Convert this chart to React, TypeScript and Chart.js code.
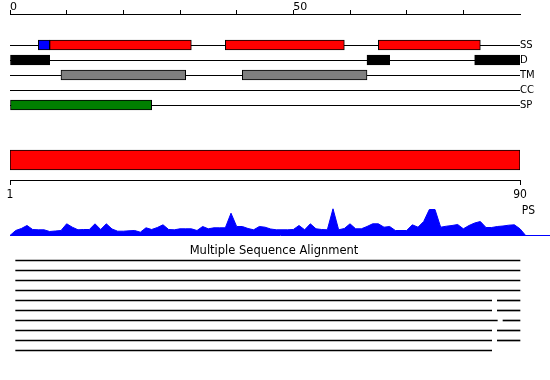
import React, { useEffect, useRef } from 'react';
import { Chart, registerables } from 'chart.js';

Chart.register(...registerables);
Chart.defaults.font.family = "'DejaVu Sans', sans-serif";
Chart.defaults.color = '#000';

// ---------- data ----------
const SEQ_LEN = 90;
const TOP_TICKS = [0, 10, 20, 30, 40, 50, 60, 70, 80];
const TOP_TICK_LABELS = [0, 50];

const TRACKS = ['SS', 'D', 'TM', 'CC', 'SP'];
const SS_SEGMENTS = [[5, 7], [7, 32], [38, 59], [65, 83]];
const SS_COLORS = ['#0000ff', '#ff0000', '#ff0000', '#ff0000'];
const D_SEGMENTS = [[0, 7], [63, 67], [82, 90]];
const TM_SEGMENTS = [[9, 31], [41, 63]];
const CC_SEGMENTS: number[][] = [];
const SP_SEGMENTS = [[0, 25]];
const D_COLOR = '#000000';
const TM_COLOR = '#808080';
const SP_COLOR = '#008000';

const PS_RANGE = [1, 90];
const PS_TICKS = [1, 90];
const PS_COLOR = '#ff0000';

const PROFILE = [
  0, 5, 7, 10, 6, 5.7, 5.7, 4, 4.5, 5,
  11.7, 8.3, 5.7, 6, 6, 11.7, 6, 11.7, 6.5, 4.3,
  4.3, 4.7, 5, 3.3, 7.7, 6, 8, 10.7, 6, 5.7,
  6.7, 6.7, 6.7, 5, 9, 6.7, 7.7, 7.7, 7.7, 22.3,
  9, 9, 7, 5.7, 9, 8.3, 6.5, 5.7, 5.7, 5.7,
  6, 10, 5.7, 11.7, 6.7, 6, 5.7, 26.7, 5.7, 7,
  11.7, 6.7, 6.7, 9, 11.7, 11.7, 8.3, 9, 5, 5,
  5, 10.7, 8.3, 14, 26, 26, 8.3, 9.3, 10, 11,
  6.7, 10, 12.5, 14, 8, 8, 9, 9.5, 10.3, 10.7,
  6.7, 0,
];
const PROFILE_LABEL = 'PS';

const MSA_TITLE = 'Multiple Sequence Alignment';
const MSA_ROWS = [
  [[1, 90]],
  [[1, 90]],
  [[1, 90]],
  [[1, 90]],
  [[1, 85], [86, 90]],
  [[1, 85], [86, 90]],
  [[1, 86], [87, 90]],
  [[1, 85], [86, 90]],
  [[1, 85], [86, 90]],
  [[1, 85]],
];

const NARROW = "'DejaVu Sans Condensed', 'DejaVu Sans', sans-serif";

function noPad(s: any) {
  s.paddingTop = 0;
  s.paddingBottom = 0;
  s.paddingLeft = 0;
  s.paddingRight = 0;
}

// ---------- configs ----------
function tracksConfig(): any {
  const segs = [SS_SEGMENTS, D_SEGMENTS, TM_SEGMENTS, CC_SEGMENTS, SP_SEGMENTS];
  const cols = [SS_COLORS, D_SEGMENTS.map(() => D_COLOR), TM_SEGMENTS.map(() => TM_COLOR), [], SP_SEGMENTS.map(() => SP_COLOR)];
  const bars: any[] = [];
  const barColors: string[] = [];
  segs.forEach((list, i) => list.forEach((s, j) => {
    bars.push({ x: s, y: i + 1 });
    barColors.push(cols[i][j]);
  }));
  const yMin = -1.1;
  const ybMin = -1.0667;
  const span = 101 / 15;
  return {
    type: 'bar',
    data: {
      datasets: [
        ...TRACKS.map((_, i) => ({
          type: 'line', indexAxis: 'x',
          data: [{ x: 0, y: i + 1 }, { x: SEQ_LEN, y: i + 1 }],
          borderColor: '#000', borderWidth: 1, pointRadius: 0, tension: 0,
          xAxisID: 'x', yAxisID: 'y', order: 2,
        })),
        {
          type: 'bar', indexAxis: 'y', data: bars,
          backgroundColor: barColors, borderColor: '#000', borderWidth: 1, borderSkipped: false,
          barThickness: 10, grouped: false, xAxisID: 'x', yAxisID: 'yb', order: 1,
        },
      ],
    },
    options: {
      animation: false, responsive: false, devicePixelRatio: 1, indexAxis: 'y',
      layout: { padding: { left: 10, right: 0, top: 0, bottom: 0 }, autoPadding: false },
      plugins: { legend: { display: false }, tooltip: { enabled: false } },
      scales: {
        x: {
          type: 'linear', position: 'top', min: 0, max: SEQ_LEN, offset: false,
          afterBuildTicks: (s: any) => { s.ticks = TOP_TICKS.map((v) => ({ value: v })); },
          afterFit: (s: any) => { s.height = 14; noPad(s); },
          grid: { drawOnChartArea: false, drawTicks: true, tickLength: 4, color: '#000', lineWidth: 1, offset: false },
          border: { display: true, color: '#000', width: 1 },
          ticks: {
            align: 'start', padding: -3.5, maxRotation: 0, autoSkip: false, color: '#000',
            font: { size: 11 },
            callback: (v: any) => (TOP_TICK_LABELS.includes(v) ? String(v) : ''),
          },
        },
        y: {
          type: 'linear', position: 'right', reverse: true, min: yMin, max: yMin + span, offset: false,
          afterBuildTicks: (s: any) => { s.ticks = TRACKS.map((_, i) => ({ value: i + 1 })); },
          afterFit: (s: any) => { s.width = 30; noPad(s); },
          grid: { display: false, drawTicks: false, offset: false }, border: { display: false },
          ticks: {
            padding: 0, autoSkip: false, color: '#000', font: { size: 10 },
            callback: (v: any) => TRACKS[v - 1] ?? '',
          },
        },
        yb: {
          type: 'linear', display: false, reverse: true, min: ybMin, max: ybMin + span, offset: false,
          grid: { offset: false },
        },
      },
    },
  };
}

function psConfig(): any {
  return {
    type: 'bar',
    data: {
      datasets: [{
        data: [{ x: PS_RANGE, y: 0 }],
        backgroundColor: PS_COLOR, borderColor: '#000', borderWidth: 1, borderSkipped: false,
        barThickness: 20,
      }],
    },
    options: {
      animation: false, responsive: false, devicePixelRatio: 1, indexAxis: 'y',
      layout: { padding: { left: 10, right: 30, top: 0, bottom: 0 }, autoPadding: false },
      plugins: { legend: { display: false }, tooltip: { enabled: false } },
      scales: {
        x: {
          type: 'linear', position: 'bottom', min: PS_TICKS[0], max: PS_TICKS[PS_TICKS.length - 1], offset: false,
          afterBuildTicks: (s: any) => { s.ticks = PS_TICKS.map((v) => ({ value: v })); },
          afterFit: (s: any) => { s.height = 25; noPad(s); },
          grid: { drawOnChartArea: false, drawTicks: true, tickLength: 5, color: '#000', lineWidth: 1, offset: false },
          border: { display: true, color: '#000', width: 1 },
          ticks: {
            padding: 3, maxRotation: 0, autoSkip: false, color: '#000',
            font: { size: 12, family: NARROW },
          },
        },
        y: { type: 'linear', display: false, min: -1, max: 1, offset: false, grid: { offset: false } },
      },
    },
  };
}

function profileConfig(): any {
  return {
    type: 'line',
    data: {
      datasets: [{
        data: PROFILE.map((v, i) => ({ x: i, y: v })),
        borderColor: '#0000ff', backgroundColor: '#0000ff', borderWidth: 1,
        pointRadius: 0, tension: 0, fill: 'origin',
      }],
    },
    options: {
      animation: false, responsive: false, devicePixelRatio: 1,
      layout: { padding: { left: 10, right: 0, top: 5.5, bottom: 0 }, autoPadding: false },
      plugins: { legend: { display: false }, tooltip: { enabled: false } },
      scales: {
        x: {
          type: 'linear', min: 0, max: SEQ_LEN * 540 / 510, offset: false,
          afterFit: (s: any) => { s.height = 4.5; noPad(s); },
          grid: { display: false, drawTicks: false },
          border: { display: true, color: '#0000ff', width: 1 },
          ticks: { display: false },
        },
        y: {
          type: 'linear', position: 'right', min: 0, max: 30, offset: false,
          afterBuildTicks: (s: any) => { s.ticks = [{ value: 25 }]; },
          afterFit: (s: any) => { s.width = 0; noPad(s); },
          grid: { display: false, drawTicks: false }, border: { display: false },
          ticks: {
            mirror: true, padding: -15, autoSkip: false, color: '#000',
            font: { size: 12, family: NARROW },
            callback: () => PROFILE_LABEL,
          },
        },
      },
    },
  };
}

function msaConfig(): any {
  const bars: any[] = [];
  MSA_ROWS.forEach((row, r) => row.forEach((s) => bars.push({ x: s, y: r })));
  const yMin = -0.25;
  return {
    type: 'bar',
    data: {
      datasets: [{
        data: bars, backgroundColor: '#000', borderWidth: 0, barThickness: 1,
      }],
    },
    options: {
      animation: false, responsive: false, devicePixelRatio: 1, indexAxis: 'y',
      layout: { padding: { left: 10, right: 12, top: 0, bottom: 0 }, autoPadding: false },
      plugins: {
        legend: { display: false }, tooltip: { enabled: false },
        title: {
          display: true, text: MSA_TITLE, color: '#000',
          font: { size: 11.5, weight: 'normal' },
          padding: { top: 4, bottom: 0.2 },
        },
      },
      scales: {
        x: { type: 'linear', display: false, min: 0, max: SEQ_LEN * 528 / 510, offset: false },
        y: { type: 'linear', display: false, reverse: true, min: yMin, max: yMin + 10.2, offset: false, grid: { offset: false } },
      },
    },
  };
}

function ChartBox({ top, height, config }: { top: number; height: number; config: () => any }) {
  const ref = useRef<HTMLCanvasElement>(null);
  useEffect(() => {
    const chart = new Chart(ref.current as HTMLCanvasElement, config());
    return () => chart.destroy();
  }, []);
  return (
    <canvas
      ref={ref}
      width={550}
      height={height}
      style={{ position: 'absolute', left: 0, top, width: 550, height }}
    />
  );
}

export default function App() {
  return (
    <div style={{ position: 'absolute', left: 0, top: 0, width: 550, height: 380, background: '#fff' }}>
      <ChartBox top={0} height={115} config={tracksConfig} />
      <ChartBox top={140} height={65} config={psConfig} />
      <ChartBox top={200} height={40} config={profileConfig} />
      <ChartBox top={240} height={120} config={msaConfig} />
    </div>
  );
}
